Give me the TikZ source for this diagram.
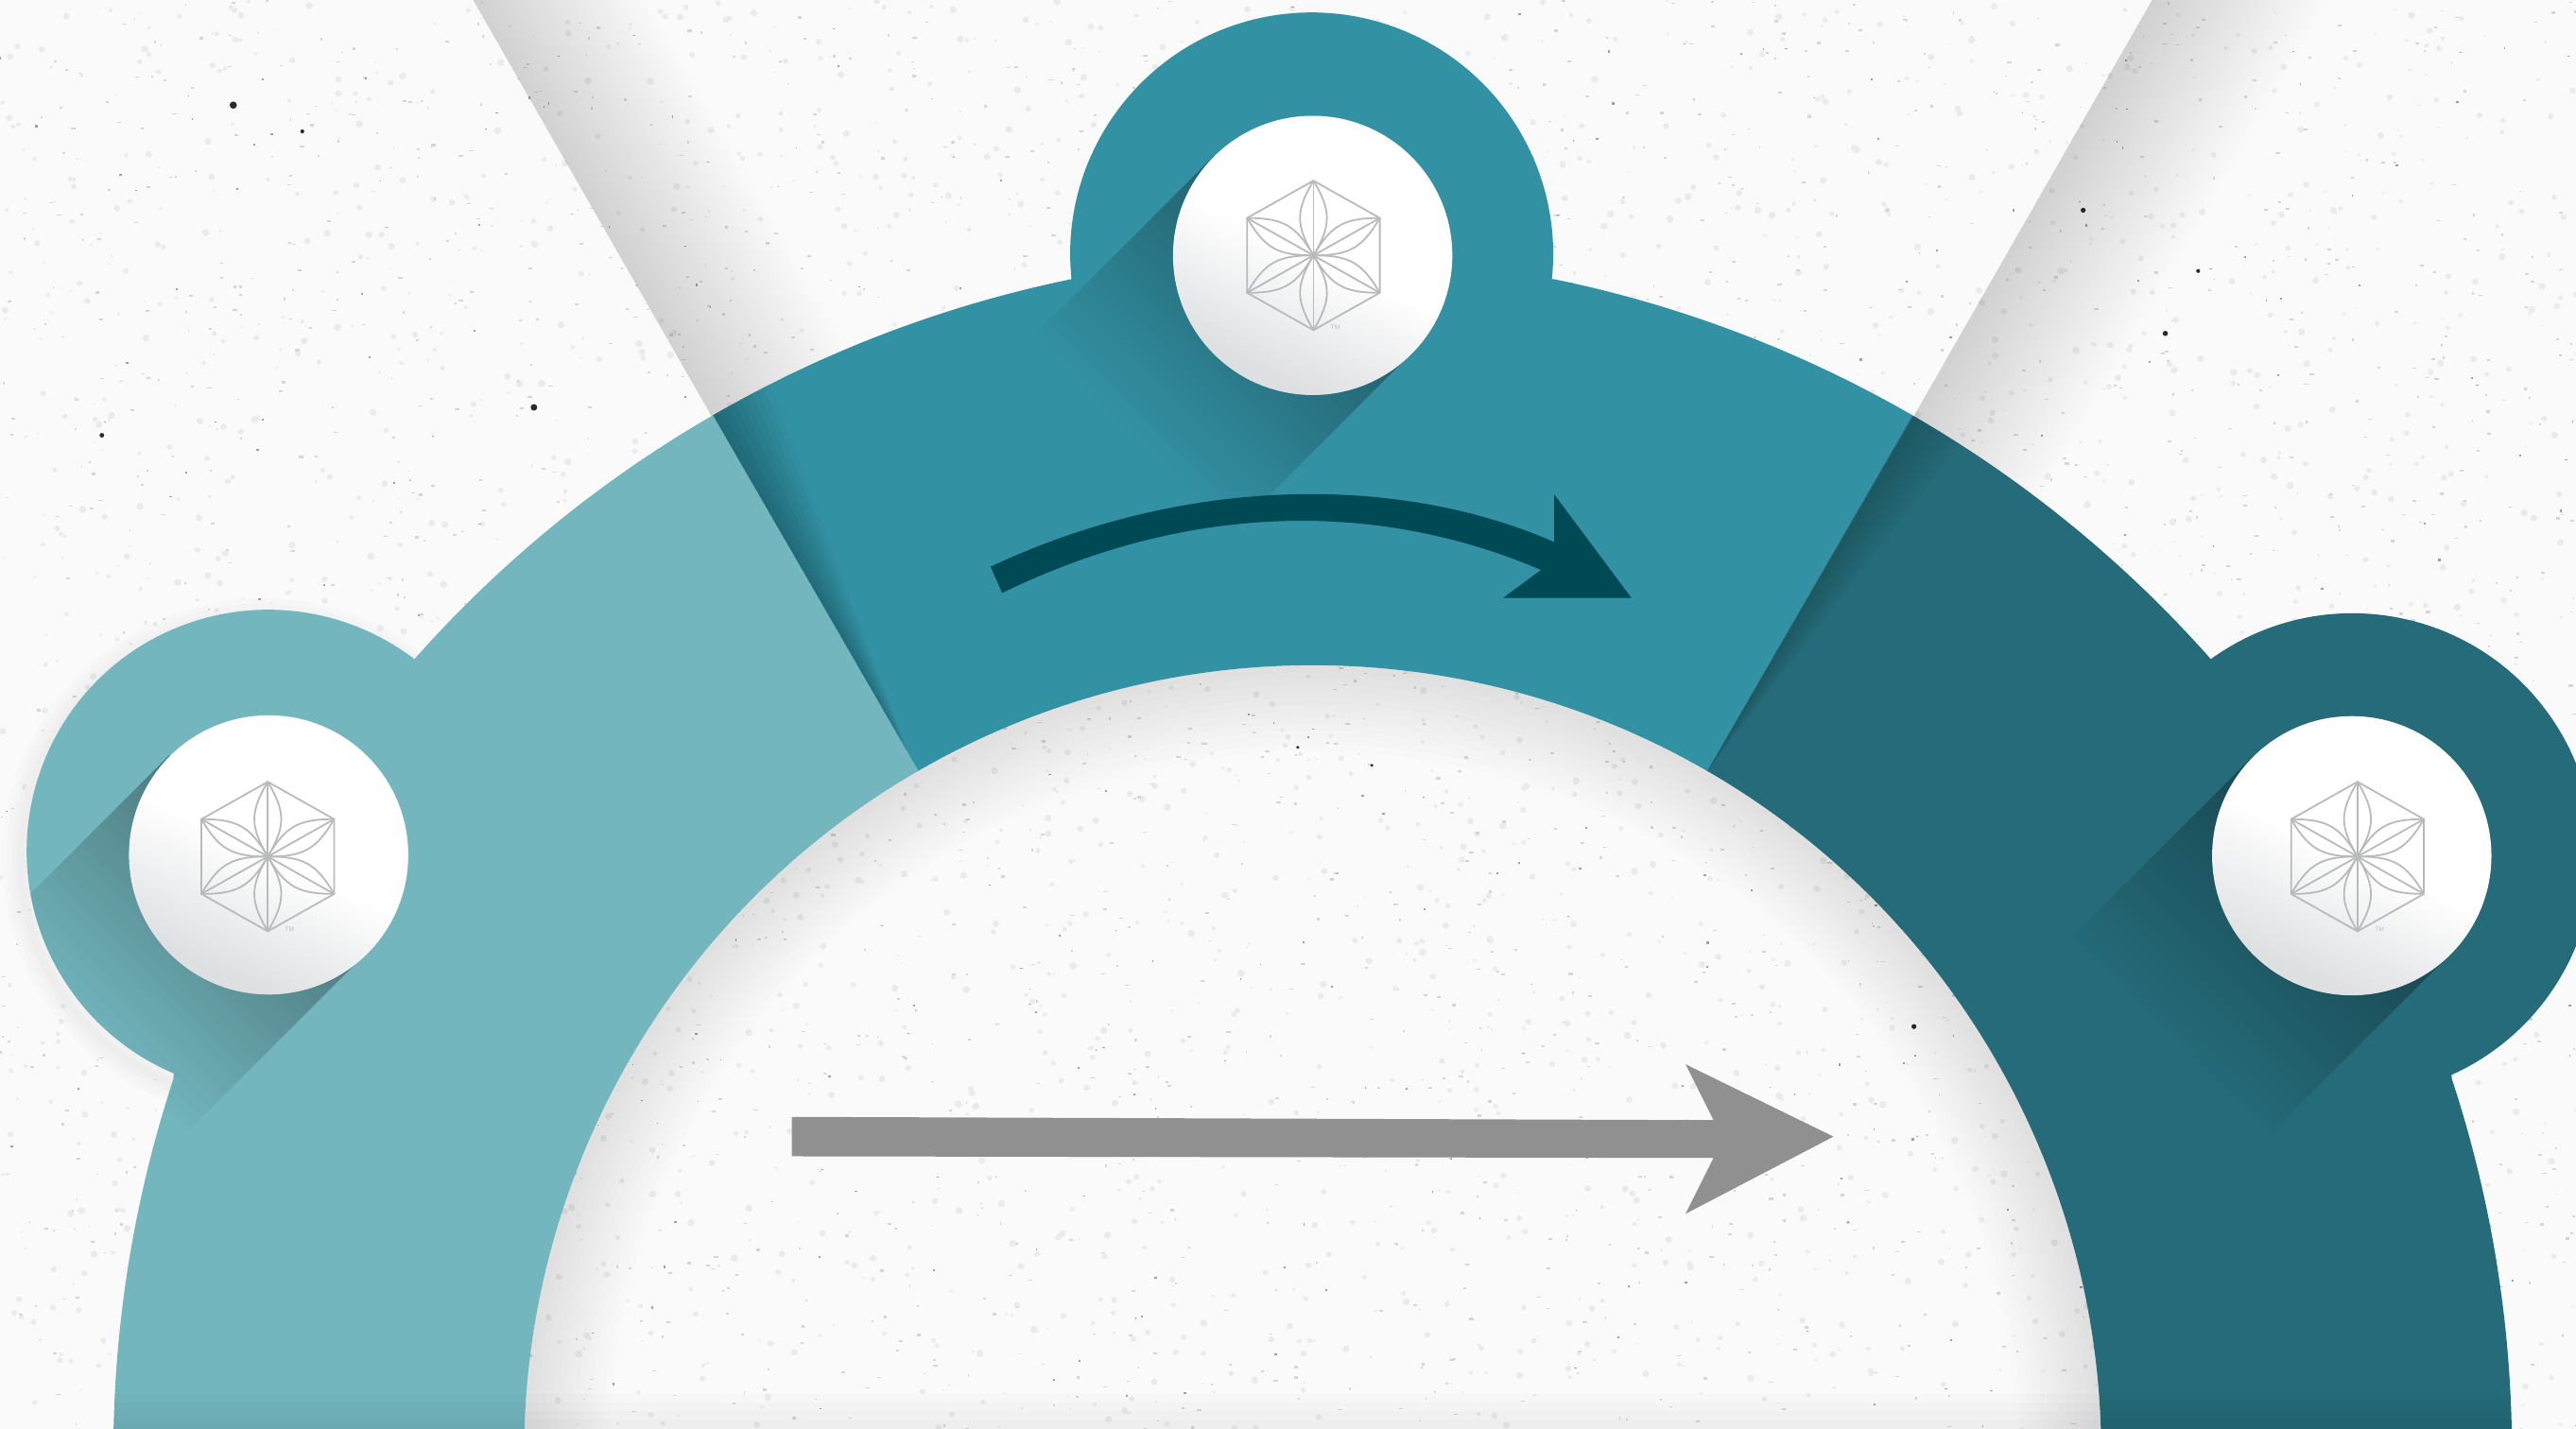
\documentclass[tikz,border=0pt]{standalone}
\usepackage{fontspec}
\setmainfont{Liberation Sans}
\usetikzlibrary{fadings}
\definecolor{paper}{HTML}{FAFAFA}
\definecolor{grainA}{HTML}{EBEBEB}
\definecolor{grainB}{HTML}{D6D6D6}
\definecolor{grainC}{HTML}{A0A0A0}
\definecolor{speck}{HTML}{2A2A2A}
\definecolor{tealL}{HTML}{73B6BE}
\definecolor{tealM}{HTML}{3391A4}
\definecolor{tealD}{HTML}{256B79}
\definecolor{arrowDark}{HTML}{004A55}
\definecolor{arrowGray}{HTML}{909090}
\definecolor{logoGray}{HTML}{B9BABB}
\definecolor{ballShade}{HTML}{DDDFE1}
% fadings: opaque up to the centre of the box, then linear to nothing
\pgfdeclarehorizontalshading{bandfadeS}{100bp}{color(0bp)=(transparent!0); color(50bp)=(transparent!0); color(63bp)=(transparent!100); color(100bp)=(transparent!100)}
\pgfdeclarefading{bandfade}{\pgfuseshading{bandfadeS}}
\pgfdeclarehorizontalshading{wedgefadeS}{100bp}{color(0bp)=(transparent!0); color(50bp)=(transparent!0); color(56.4bp)=(transparent!100); color(100bp)=(transparent!100)}
\pgfdeclarefading{wedgefade}{\pgfuseshading{wedgefadeS}}
\pgfdeclarehorizontalshading{ballshS}{100bp}{color(0bp)=(ballShade); color(27bp)=(ballShade); color(50bp)=(white); color(100bp)=(white)}
\tikzset{
  logoline/.style={draw=logoGray,line width=1.8pt,line join=round},
  ball/.style={shading=ballshS,shading angle=65},
  tmmark/.style={text=logoGray,font=\fontsize{6.5}{7}\selectfont,inner sep=0pt},
}
% segment outlines, single closed contours
\def\segL{([shift={(799,885)}]-120:730) arc[start angle=-120,end angle=-138.5,radius=730]
  arc[start angle=-52.7,end angle=-247,radius=147]
  -- ([shift={(799,885)}]-161.8:730) arc[start angle=-161.8,end angle=-180,radius=730]
  -- ([shift={(799,885)}]-180:480) arc[start angle=-180,end angle=-120,radius=480] -- cycle}
\def\segM{([shift={(799,885)}]-120:730) arc[start angle=-120,end angle=-101.6,radius=730]
  arc[start angle=174,end angle=366,radius=147]
  -- ([shift={(799,885)}]-78.4:730) arc[start angle=-78.4,end angle=-60,radius=730]
  -- ([shift={(799,885)}]-60:480) arc[start angle=-60,end angle=-120,radius=480] -- cycle}
\def\segR{([shift={(799,885)}]-60:730) arc[start angle=-60,end angle=-41.5,radius=730]
  arc[start angle=234.1,end angle=425.8,radius=147]
  -- ([shift={(799,885)}]-18.2:730) arc[start angle=-18.2,end angle=0,radius=730]
  -- ([shift={(799,885)}]0:480) arc[start angle=0,end angle=-60,radius=480] -- cycle}
\newcommand\bubbleshadow[3]{%
  \begin{scope}
    \clip #3;
    \clip (#1-60.1,#2-60.1) -- (#1+60.1,#2+60.1) -- (#1+60.1-212,#2+60.1+212) -- (#1-60.1-212,#2-60.1+212) -- cycle;
    \fill[black,opacity=.33,path fading=bandfade,fading angle=225] (#1-300,#2-300) rectangle (#1+300,#2+300);
  \end{scope}}
% #1,#2 ball centre; #3,#4 logo centre; #5 name of the mark
\newcommand\bubble[5]{%
  \shade[ball] (#1,#2) circle[radius=85];
  \begin{scope}[shift={(#3,#4)},xscale=1.025]
    \draw[logoline] (90:45.5) -- (30:45.5) -- (-30:45.5) -- (-90:45.5) -- (-150:45.5) -- (150:45.5) -- cycle;
    \foreach \a in {30,90,150,210,270,330}{
      \draw[logoline] (0,0) -- (\a:45.5);
      \draw[logoline] (0,0) to[bend left=30,looseness=1.2] (\a:45.5) to[bend left=30,looseness=1.2] (0,0);
    }
    \node[tmmark] (#5) at (13,44) {TM};
  \end{scope}}
\begin{document}
\begin{tikzpicture}[x=1.7379pt,y=-1.7379pt]
\useasboundingbox (0,0) rectangle (1568,870);
\begin{scope}
\clip (0,0) rectangle (1568,870);
% paper
\fill[paper] (0,0) rectangle (1568,870);
\pgfmathsetseed{7}
\foreach \i in {1,...,3000}{\fill[grainA] (rnd*1568,rnd*870) circle[radius=0.6+rnd*1.6];}
\foreach \i in {1,...,2400}{\fill[grainB] (rnd*1568,rnd*870) rectangle ++(0.7+rnd*2,0.5+rnd*1.1);}
\foreach \i in {1,...,400}{\fill[grainC] (rnd*1568,rnd*870) rectangle ++(0.5+rnd*1.2,0.5+rnd*1);}
\fill[speck] (142,64) circle[radius=2.2] (325,248) circle[radius=2] (62,265) circle[radius=1.4]
  (1318,203) circle[radius=1.6] (1165,625) circle[radius=1.5] (1268,128) circle[radius=1.5]
  (184,80) circle[radius=1.2] (1338,165) circle[radius=1.2] (790,455) circle[radius=1] (835,466) circle[radius=1];
% wedge shadows on the paper
\begin{scope}
  \clip (288,0) -- (477,330) -- (800,330) -- (800,0) -- cycle;
  \fill[black,opacity=.16,path fading=wedgefade,fading angle=30] (360-360,126-360) rectangle (360+360,126+360);
\end{scope}
\begin{scope}
  \clip (1310,0) -- (1121,330) -- (1568,330) -- (1568,0) -- cycle;
  \fill[black,opacity=.16,path fading=wedgefade,fading angle=-30] (1238-360,126-360) rectangle (1238+360,126+360);
\end{scope}
% soft shadow round the left ball
\foreach \w in {5,11,17,23}{
  \draw[black,opacity=.012,line width=\w*1.7379pt] (160,523) circle[radius=147];
}
% inner glow
\begin{scope}
  \clip (799,885) circle[radius=480];
  \foreach \w in {8,16,24,32,40,48,56,64,72,80,88,96,104}{
    \draw[black,opacity=.008,line width=\w*1.7379pt] (799,885) circle[radius=480];
  }
\end{scope}
% segments
\fill[tealL] \segL;
\fill[tealM] \segM;
\fill[tealD] \segR;
% wedges inside the segments
\begin{scope}
  \clip \segM;
  \foreach \w in {6,12,18,24,30,36,42,48,54,60}{
    \fill[black,opacity=.028] (556,467) -- (375,153) -- (375+\w*.866,153-\w*.5) -- cycle;
  }
\end{scope}
\begin{scope}
  \clip \segR;
  \foreach \w in {6,12,18,24,30,36,42,48}{
    \fill[black,opacity=.018] (1041,467) -- (1223,153) -- (1223+\w*.866,153+\w*.5) -- cycle;
  }
\end{scope}
% long shadows of the balls
\bubbleshadow{163}{520}{\segL}
\bubbleshadow{799}{155}{\segM}
\bubbleshadow{1431}{521}{\segR}
% gentle darkening along the bottom edge
\begin{scope}
  \clip (799,885) circle[radius=730];
  \foreach \h in {6,11,16,21}{
    \fill[black,opacity=.01] (0,870-\h) rectangle (1568,870);
  }
\end{scope}
% balls
\bubble{163.5}{520.5}{163}{521.5}{tmL}
\bubble{799}{155.5}{799.5}{155.5}{tmM}
\bubble{1431.5}{521}{1435}{521.5}{tmR}
% arrows
\fill[arrowDark] (603,345) .. controls (720,290) and (850,288) .. (946,330) -- (946,301) -- (993,364) -- (915,364) -- (938,347)
   .. controls (840,305) and (725,305) .. (610,361) -- cycle;
\fill[arrowGray] (482,680) -- (1043,682) -- (1026,648) -- (1116,692) -- (1026,739) -- (1043,705) -- (482,704) -- cycle;
\end{scope}
\end{tikzpicture}
\end{document}
